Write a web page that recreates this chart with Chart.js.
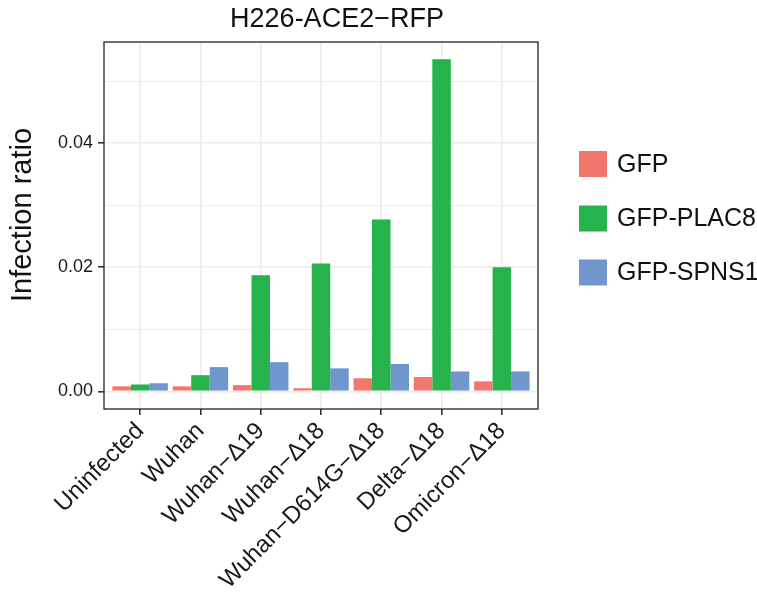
<!DOCTYPE html>
<html><head><meta charset="utf-8">
<script src="https://cdn.jsdelivr.net/npm/chart.js@4.4.1/dist/chart.umd.min.js"></script>
<style>html,body{margin:0;padding:0;background:#fff}#wrap{width:757px;height:596px;position:relative}</style>
</head><body><div id="wrap"><canvas id="c" width="757" height="596"></canvas></div>
<script>
const chartTitle = 'H226-ACE2\u2212RFP';
const yTitle = 'Infection ratio';
const categories = ['Uninfected','Wuhan','Wuhan\u2212\u039419','Wuhan\u2212\u039418','Wuhan\u2212D614G\u2212\u039418','Delta\u2212\u039418','Omicron\u2212\u039418'];
const seriesNames = ['GFP','GFP-PLAC8','GFP-SPNS1'];
const gfp   = [0.0008,0.0008,0.0010,0.0005,0.0021,0.0023,0.0016];
const plac8 = [0.0011,0.0026,0.0187,0.0206,0.0277,0.0535,0.0200];
const spns1 = [0.0013,0.0039,0.0047,0.0037,0.0044,0.0032,0.0032];
const yTickLabels = [0, 0.02, 0.04];
const colors = ['#F2766D','#26B34B','#7096CE'];

const FONT = '"Liberation Sans", Arial, Helvetica, sans-serif';
const isMajor = v => yTickLabels.some(t => Math.abs(t - v) < 1e-9);
const X_EXPAND = 0.6;

const overlay = {
  id: 'overlay',
  afterLayout(chart) {
    const x = chart.scales.x;
    x._startValue = -X_EXPAND;
    x._valueRange = categories.length - 1 + 2 * X_EXPAND;
  },
  afterDraw(chart) {
    const ctx = chart.ctx, a = chart.chartArea;
    ctx.save();
    ctx.strokeStyle = '#222';
    ctx.lineWidth = 1.3;
    ctx.strokeRect(a.left, a.top, a.right - a.left, a.bottom - a.top);
    ctx.fillStyle = '#111';
    ctx.font = '27px ' + FONT;
    ctx.textAlign = 'center';
    ctx.textBaseline = 'middle';
    ctx.fillText(chartTitle, 337, 20);
    ctx.save();
    ctx.translate(23, 215);
    ctx.rotate(-Math.PI / 2);
    ctx.font = '29px ' + FONT;
    ctx.fillText(yTitle, 0, 0);
    ctx.restore();
    const ys = [164, 218.5, 272.5];
    chart.data.datasets.forEach((ds, i) => {
      ctx.fillStyle = ds.backgroundColor;
      ctx.fillRect(579, ys[i] - 13, 28, 26);
      ctx.fillStyle = '#111';
      ctx.font = '25px ' + FONT;
      ctx.textAlign = 'left';
      ctx.textBaseline = 'middle';
      ctx.fillText(ds.label, 617, ys[i] + 1);
    });
    ctx.restore();
  }
};

new Chart(document.getElementById('c'), {
  type: 'bar',
  data: {
    labels: categories,
    datasets: [
      {label: seriesNames[0], data: gfp, backgroundColor: colors[0]},
      {label: seriesNames[1], data: plac8, backgroundColor: colors[1]},
      {label: seriesNames[2], data: spns1, backgroundColor: colors[2]}
    ]
  },
  options: {
    responsive: false,
    animation: false,
    devicePixelRatio: 1,
    layout: {padding: {left: 0, right: 219, top: 42, bottom: 0}},
    datasets: {bar: {categoryPercentage: 0.92, barPercentage: 1.0, borderWidth: 0}},
    plugins: {legend: {display: false}, title: {display: false}, tooltip: {enabled: false}},
    scales: {
      x: {
        afterFit: s => { s.height = 187; },
        border: {display: false},
        grid: {offset: false, color: '#EBEBEB', lineWidth: 1.6, tickColor: '#333', tickLength: 6, drawOnChartArea: true},
        ticks: {font: {size: 24, family: FONT}, color: '#1a1a1a', maxRotation: 45, minRotation: 45, autoSkip: false, padding: 2}
      },
      y: {
        min: -0.00285, max: 0.0563,
        afterFit: s => { s.width = 104; },
        border: {display: false},
        grid: {
          color: '#EBEBEB',
          lineWidth: c => (c.tick && isMajor(c.tick.value)) ? 1.6 : 0.9,
          tickColor: c => (c.tick && isMajor(c.tick.value)) ? '#333' : 'rgba(0,0,0,0)',
          tickLength: 6
        },
        ticks: {
          stepSize: 0.01, includeBounds: false, autoSkip: false,
          font: {size: 18, family: FONT}, color: '#1a1a1a', padding: 5,
          callback: v => isMajor(v) ? v.toFixed(2) : ''
        },
        title: {display: false}
      }
    }
  },
  plugins: [overlay]
});
</script>
</body></html>
